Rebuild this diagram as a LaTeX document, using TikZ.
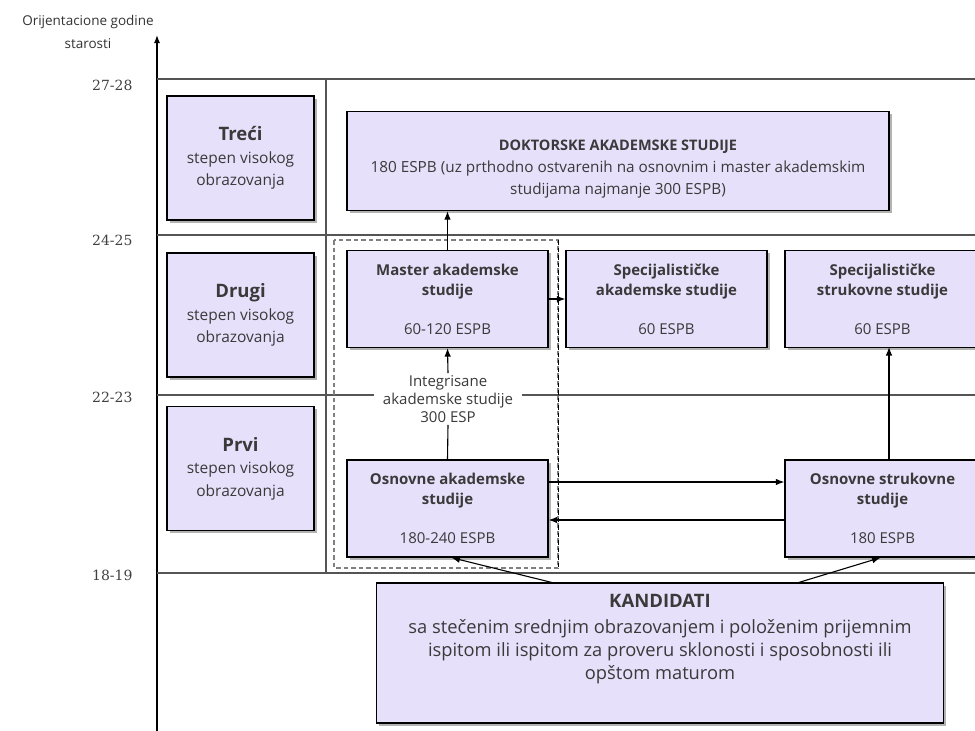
\documentclass[tikz,border=0pt]{standalone}
\usepackage{fontspec}
\setmainfont{Open Sans}
\newfontfamily\serifage{DejaVu Serif}
\usetikzlibrary{arrows.meta,shadows}
\definecolor{boxfill}{HTML}{E6E0FA}
\definecolor{txtgray}{HTML}{3A3A3A}
\definecolor{gridgray}{HTML}{555555}
\newcommand{\bigb}[1]{\textbf{\fontsize{18.5}{22}\selectfont #1}}
\begin{document}
\begin{tikzpicture}[x=1pt,y=-1pt,
  box/.style={draw=black, line width=1.3pt, fill=boxfill,
    drop shadow={shadow xshift=2.5pt, shadow yshift=-2.5pt, opacity=0.6},
    align=center, inner sep=0pt, text=txtgray},
  lvl/.style={box, minimum width=147pt, minimum height=124pt, font=\fontsize{15.5}{22.5}\selectfont},
  study/.style={box, minimum width=201pt, minimum height=97pt, font=\fontsize{15}{20}\selectfont},
  gridline/.style={draw=gridgray, line width=1.3pt},
  arr/.style={-{Latex[length=8.5pt,width=6.5pt]}, line width=1.1pt},
  age/.style={anchor=east, font=\serifage\fontsize{14}{16}\selectfont, text=black!75}
]
\useasboundingbox (0,0) rectangle (975,731);
\begin{scope}
\clip (0,0) rectangle (975,731);

% axis and grid
\coordinate (axb) at (157,731);
\coordinate (axt) at (157,35);
\draw[line width=1.3pt, -{Latex[length=8pt,width=6pt]}] (axb) -- (axt);
\foreach \yy/\nm in {79/a, 235/b, 395/c, 573/d} {
  \coordinate (gl\nm) at (157,\yy);
  \coordinate (gr\nm) at (975,\yy);
  \draw[gridline] (gl\nm) -- (gr\nm);
}
\coordinate (vt) at (326,79);
\coordinate (vb) at (326,573);
\draw[gridline] (vt) -- (vb);

\node[font=\fontsize{13.5}{23}\selectfont, align=center, text=black!80] (axlab) at (88,32) {Orijentacione godine\\starosti};
\node[age] (a1) at (136,85) {27-28};
\node[age] (a2) at (136,240) {24-25};
\node[age] (a3) at (136,397) {22-23};
\node[age] (a4) at (136,575) {18-19};

% dashed integrated box
\coordinate (dtl) at (334,240);
\coordinate (dbr) at (558,568);
\draw[draw=gray, line width=1.8pt, dash pattern=on 4.5pt off 3pt] (dtl) rectangle (dbr);
\coordinate (drt) at (558,240);
\coordinate (drb) at (558,568);
\draw[draw=black, line width=1pt, dash pattern=on 4.5pt off 3pt] (drt) -- (drb);

% left level boxes
\node[lvl] (treci) at (240.5,158) {\bigb{Treći}\\stepen visokog\\obrazovanja};
\node[lvl] (drugi) at (240.5,315) {\bigb{Drugi}\\stepen visokog\\obrazovanja};
\node[lvl] (prvi) at (240.5,468.5) {\bigb{Prvi}\\stepen visokog\\obrazovanja};

% study boxes
\node[box, minimum width=542pt, minimum height=99pt, font=\fontsize{15.3}{22}\selectfont] (dok) at (618,161)
  {\rule{0pt}{27pt}\textbf{\fontsize{14.5}{22}\selectfont DOKTORSKE AKADEMSKE STUDIJE}\\
   180 ESPB (uz prthodno ostvarenih na osnovnim i master akademskim\\studijama najmanje 300 ESPB)};
\node[study] (master) at (447.5,299)
  {\textbf{Master akademske}\\\textbf{studije}\\[19pt]60-120 ESPB};
\node[study] (specak) at (666.5,299)
  {\textbf{Specijalističke}\\\textbf{akademske studije}\\[19pt]60 ESPB};
\node[study, minimum width=195pt] (specstr) at (882.5,299)
  {\textbf{Specijalističke}\\\textbf{strukovne studije}\\[19pt]60 ESPB};
\node[study] (osnak) at (447.5,508.5)
  {\textbf{Osnovne akademske}\\\textbf{studije}\\[19pt]180-240 ESPB};
\node[study, minimum width=195pt] (osnstr) at (882.5,508.5)
  {\textbf{Osnovne strukovne}\\\textbf{studije}\\[19pt]180 ESPB};
\node[box, minimum width=567pt, minimum height=140pt, font=\fontsize{18.3}{23}\selectfont] (kand) at (660,653)
  {\bigb{KANDIDATI}\\[3pt]
   sa stečenim srednjim obrazovanjem i položenim prijemnim\\
   ispitom ili ispitom za proveru sklonosti i sposobnosti ili\\
   opštom maturom\\[10pt]\mbox{}};

% integrated label
\node[fill=white, inner xsep=9pt, inner ysep=2pt, align=center, text=txtgray,
  font=\fontsize{15}{18}\selectfont] (integ) at (448,399)
  {Integrisane\\akademske studije\\300 ESP};

% connectors
\draw[arr] (master.north) -- (master.north |- dok.south);
\draw[arr] (integ.north) -- (master.south);
\draw[line width=1.1pt] (osnak.north) -- (integ.south);
\draw[arr] (master.east) -- (specak.west);
\draw[arr] ([yshift=26.5pt]osnak.east) -- ([yshift=26.5pt]osnak.east -| osnstr.west);
\draw[arr] ([yshift=-11.5pt]osnstr.west) -- ([yshift=-11.5pt]osnstr.west -| osnak.east);
\coordinate (s1) at (889,460);
\coordinate (s2) at (889,347);
\draw[arr] (s1) -- (s2);
\coordinate (k1) at (554,583);
\coordinate (k3) at (797,583);
\draw[arr] (k1) -- ([xshift=4pt]osnak.south);
\draw[arr] (k3) -- ([xshift=-2pt]osnstr.south);
\end{scope}
\end{tikzpicture}
\end{document}
